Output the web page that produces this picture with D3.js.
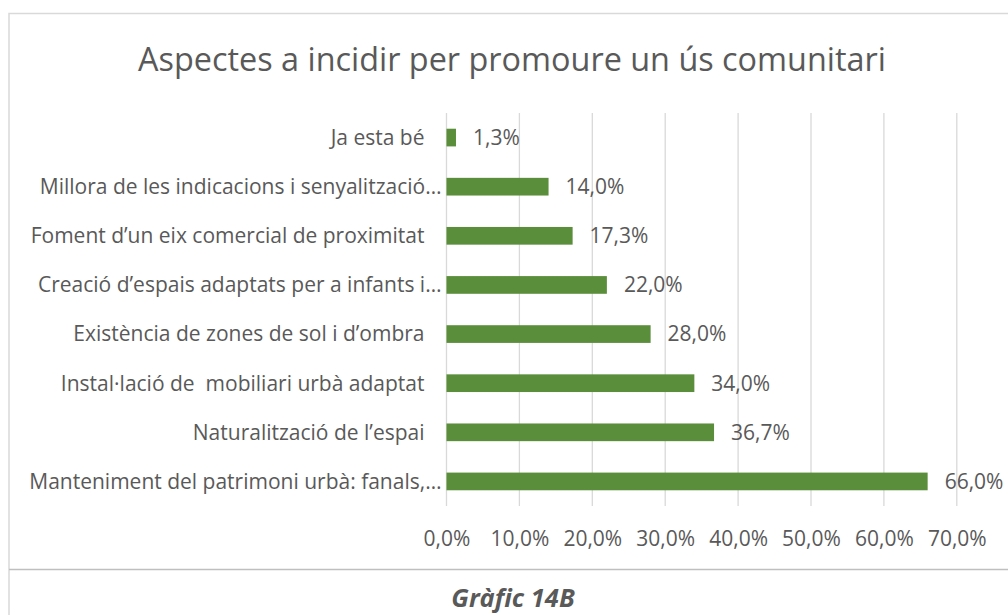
<!DOCTYPE html>
<html>
<head>
    <meta charset="utf-8">
    <script src="https://d3js.org/d3.v7.min.js"></script>
    <title>Aspectes a incidir</title>
    <style>
        body { margin: 0; background: #fff; }
        svg { display: block; font-family: "Open Sans", sans-serif; }
        .cat text { white-space: pre; }
    </style>
</head>
<body>
    <svg id="chart" width="1008" height="615"></svg>
    <script>
        // data, bottom to top as in the picture
        var categories = [
            "Manteniment del patrimoni urbà: fanals,…",
            "Naturalització de l’espai",
            "Instal·lació de  mobiliari urbà adaptat",
            "Existència de zones de sol i d’ombra",
            "Creació d’espais adaptats per a infants i…",
            "Foment d’un eix comercial de proximitat",
            "Millora de les indicacions i senyalització…",
            "Ja esta bé"
        ];
        var values = [66.0, 36.7, 34.0, 28.0, 22.0, 17.3, 14.0, 1.3];
        var ticks = [0, 10, 20, 30, 40, 50, 60, 70];

        var title = "Aspectes a incidir per promoure un ús comunitari";
        var caption = "Gràfic 14B";

        var margin = { top: 113, right: 51, bottom: 109, left: 446.5 };
        var textColor = "#595959";
        var fontSize = 21;

        var svg = d3.select("#chart");

        // outer frame (right edge runs off the page)
        svg.append("path")
            .attr("d", "M9,615 V13.5 H1008")
            .attr("fill", "none")
            .attr("stroke", "#d9d9d9")
            .attr("stroke-width", 1.5);
        svg.append("line")
            .attr("x1", 9).attr("x2", 1008)
            .attr("y1", 569.5).attr("y2", 569.5)
            .attr("stroke", "#bfbfbf")
            .attr("stroke-width", 1.5);

        var x = d3.scaleLinear()
            .domain([0, 70])
            .range([margin.left, margin.left + 7 * 72.9]);

        var y = d3.scaleBand()
            .domain(d3.range(categories.length).reverse())
            .range([margin.top, 506])
            .paddingInner(0.64)
            .paddingOuter(0.32);

        // vertical gridlines
        svg.append("g").selectAll("line")
            .data(ticks)
            .enter().append("line")
            .attr("x1", d => x(d)).attr("x2", d => x(d))
            .attr("y1", margin.top).attr("y2", 506)
            .attr("stroke", "#d9d9d9")
            .attr("stroke-width", 1.3);

        var pct = d => d3.format(".1f")(d).replace(".", ",") + "%";

        // x axis labels
        var xAxis = d3.axisBottom(x)
            .tickValues(ticks)
            .tickSize(0)
            .tickPadding(0)
            .tickFormat(pct);
        var gx = svg.append("g")
            .attr("transform", "translate(0,531)")
            .call(xAxis);
        gx.select(".domain").remove();
        gx.selectAll("text")
            .attr("fill", textColor)
            .attr("font-size", fontSize)
            .attr("font-family", "Open Sans, sans-serif");

        // category labels
        var yAxis = d3.axisLeft(y)
            .tickSize(0)
            .tickPadding(5)
            .tickFormat(i => categories[i]);
        var gy = svg.append("g")
            .attr("class", "cat")
            .attr("transform", "translate(" + margin.left + ",0)")
            .call(yAxis);
        gy.select(".domain").remove();
        gy.selectAll("text")
            .attr("fill", textColor)
            .attr("font-size", fontSize)
            .attr("font-family", "Open Sans, sans-serif")
            .attr("dy", "0.35em")
            // labels that were not cut short sit a little further left
            .attr("dx", i => categories[i].endsWith("…") ? 0 : -17);

        // bars
        svg.append("g").selectAll("rect")
            .data(values)
            .enter().append("rect")
            .attr("x", x(0))
            .attr("y", (d, i) => y(i))
            .attr("width", d => x(d) - x(0))
            .attr("height", y.bandwidth())
            .attr("fill", "#5a8e3a");

        // value labels
        svg.append("g").selectAll("text")
            .data(values)
            .enter().append("text")
            .attr("x", d => x(d) + 17)
            .attr("y", (d, i) => y(i) + y.bandwidth() / 2)
            .attr("dy", "0.35em")
            .attr("fill", textColor)
            .attr("font-size", fontSize)
            .text(pct);

        // title
        svg.append("text")
            .attr("x", 512)
            .attr("y", 71)
            .attr("text-anchor", "middle")
            .attr("fill", textColor)
            .attr("font-size", 32.4)
            .text(title);

        // caption
        svg.append("text")
            .attr("x", 513)
            .attr("y", 607)
            .attr("text-anchor", "middle")
            .attr("fill", textColor)
            .attr("font-size", 25.5)
            .attr("font-style", "italic")
            .attr("font-weight", "bold")
            .text(caption);
    </script>
</body>
</html>
